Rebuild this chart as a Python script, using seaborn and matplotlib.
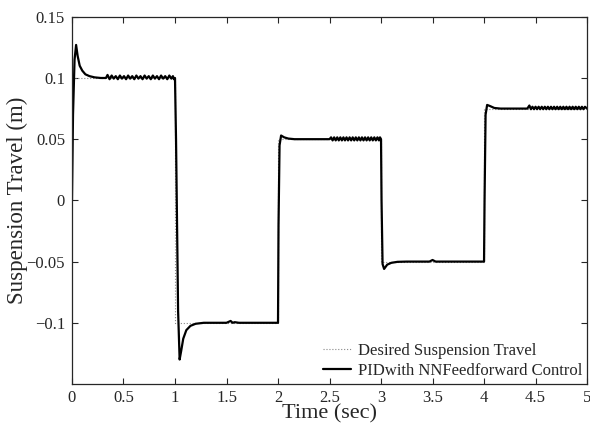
import pandas as pd
import seaborn as sns
import matplotlib
matplotlib.use("Agg")
import matplotlib.pyplot as plt
from matplotlib.ticker import FuncFormatter

# desired suspension travel (step reference)
desired_t = [0, 1, 1, 2, 2, 3, 3, 4, 4, 5]
desired_y = [0.1, 0.1, -0.1, -0.1, 0.05, 0.05, -0.05, -0.05, 0.075, 0.075]

# PID with NN feedforward response, (time, travel)
seg1 = [(0.0, 0.0), (0.01, 0.07), (0.025, 0.115), (0.04, 0.127), (0.055, 0.118),
        (0.075, 0.110), (0.10, 0.106), (0.13, 0.103), (0.17, 0.1015), (0.22, 0.1005),
        (0.28, 0.1), (0.33, 0.1),
        (0.345, 0.1025), (0.365, 0.099), (0.385, 0.102), (0.405, 0.0995), (0.425, 0.1015),
        (0.445, 0.099), (0.465, 0.102), (0.485, 0.0995), (0.505, 0.1015), (0.525, 0.099),
        (0.545, 0.102), (0.565, 0.0995), (0.585, 0.1015), (0.605, 0.099), (0.625, 0.102),
        (0.645, 0.0995), (0.665, 0.1015), (0.685, 0.099), (0.705, 0.102), (0.725, 0.0995),
        (0.745, 0.1015), (0.765, 0.099), (0.785, 0.102), (0.805, 0.0995), (0.825, 0.1015),
        (0.845, 0.099), (0.865, 0.102), (0.885, 0.0995), (0.905, 0.1015), (0.925, 0.099),
        (0.945, 0.102), (0.965, 0.0995), (0.98, 0.1015), (0.99, 0.099), (1.0, 0.1)]
seg2 = [(1.01, 0.05), (1.03, -0.09), (1.045, -0.13), (1.06, -0.123), (1.08, -0.113),
        (1.11, -0.106), (1.15, -0.1025), (1.2, -0.1008), (1.28, -0.1), (1.5, -0.1),
        (1.54, -0.0985), (1.56, -0.1), (1.58, -0.0995), (1.62, -0.1), (2.0, -0.1)]
seg3 = [(2.005, -0.02), (2.015, 0.045), (2.03, 0.053), (2.06, 0.0515), (2.1, 0.0505),
        (2.16, 0.05), (2.25, 0.05), (2.5, 0.05),
        (2.515, 0.0515), (2.53, 0.049), (2.545, 0.0515), (2.56, 0.049), (2.575, 0.0515),
        (2.59, 0.049), (2.605, 0.0515), (2.62, 0.049), (2.635, 0.0515), (2.65, 0.049),
        (2.665, 0.0515), (2.68, 0.049), (2.695, 0.0515), (2.71, 0.049), (2.725, 0.0515),
        (2.74, 0.049), (2.755, 0.0515), (2.77, 0.049), (2.785, 0.0515), (2.80, 0.049),
        (2.815, 0.0515), (2.83, 0.049), (2.845, 0.0515), (2.86, 0.049), (2.875, 0.0515),
        (2.89, 0.049), (2.905, 0.0515), (2.92, 0.049), (2.935, 0.0515), (2.95, 0.049),
        (2.965, 0.0515), (2.98, 0.049), (2.99, 0.0515), (3.0, 0.05)]
seg4 = [(3.005, 0.0), (3.015, -0.052), (3.03, -0.056), (3.06, -0.0525), (3.1, -0.051),
        (3.16, -0.0502), (3.25, -0.05), (3.47, -0.05), (3.5, -0.0487), (3.53, -0.05),
        (4.0, -0.05)]
seg5 = [(4.005, 0.0), (4.015, 0.07), (4.03, 0.078), (4.06, 0.077), (4.1, 0.0755),
        (4.16, 0.075), (4.42, 0.075),
        (4.44, 0.0775), (4.455, 0.0745), (4.47, 0.0765), (4.485, 0.0745), (4.50, 0.0765),
        (4.515, 0.0745), (4.53, 0.0765), (4.545, 0.0745), (4.56, 0.0765), (4.575, 0.0745),
        (4.59, 0.0765), (4.605, 0.0745), (4.62, 0.0765), (4.635, 0.0745), (4.65, 0.0765),
        (4.665, 0.0745), (4.68, 0.0765), (4.695, 0.0745), (4.71, 0.0765), (4.725, 0.0745),
        (4.74, 0.0765), (4.755, 0.0745), (4.77, 0.0765), (4.785, 0.0745), (4.80, 0.0765),
        (4.815, 0.0745), (4.83, 0.0765), (4.845, 0.0745), (4.86, 0.0765), (4.875, 0.0745),
        (4.89, 0.0765), (4.905, 0.0745), (4.92, 0.0765), (4.935, 0.0745), (4.95, 0.0765),
        (4.965, 0.0745), (4.98, 0.0765), (5.0, 0.075)]

y_ticks = [-0.1, -0.05, 0, 0.05, 0.1, 0.15]
x_ticks = [0, 0.5, 1, 1.5, 2, 2.5, 3, 3.5, 4, 4.5, 5]

desired = pd.DataFrame({"t": desired_t, "y": desired_y})
resp = pd.DataFrame(seg1 + seg2 + seg3 + seg4 + seg5, columns=["t", "y"])

sns.set_style("ticks")
plt.rcParams["font.family"] = ["Liberation Serif", "DejaVu Serif"]

fig = plt.figure(figsize=(5.9, 4.26), dpi=100)
ax = fig.add_axes([0.122, 0.0986, 0.873, 0.862])

sns.lineplot(data=desired, x="t", y="y", sort=False, estimator=None, ax=ax,
             color="#888888", lw=0.8, linestyle=":", label="Desired Suspension Travel")
sns.lineplot(data=resp, x="t", y="y", sort=False, estimator=None, ax=ax,
             color="black", lw=1.6, label="PIDwith NNFeedforward Control")

ax.set_xlim(0, 5)
ax.set_ylim(-0.15, 0.15)
ax.set_xticks(x_ticks)
ax.set_yticks(y_ticks)
fmt = FuncFormatter(lambda v, p: ("%g" % v).replace("-", "\u2212"))
ax.xaxis.set_major_formatter(fmt)
ax.yaxis.set_major_formatter(fmt)
ax.tick_params(direction="in", length=4, width=0.8, labelsize=12, top=True, right=True)
ax.tick_params(axis="x", pad=4)
ax.tick_params(axis="y", pad=5)
for s in ax.spines.values():
    s.set_linewidth(0.9)
    s.set_visible(True)

ax.set_xlabel("Time (sec)", fontsize=16, labelpad=-1)
ax.set_ylabel("Suspension Travel (m)", fontsize=16.5, labelpad=-1)

leg = ax.legend(loc="lower right", fontsize=12, frameon=False,
                handlelength=1.7, borderpad=0.2, labelspacing=0.25,
                handletextpad=0.4, borderaxespad=0.1)

fig.savefig("out.png", dpi=100)
